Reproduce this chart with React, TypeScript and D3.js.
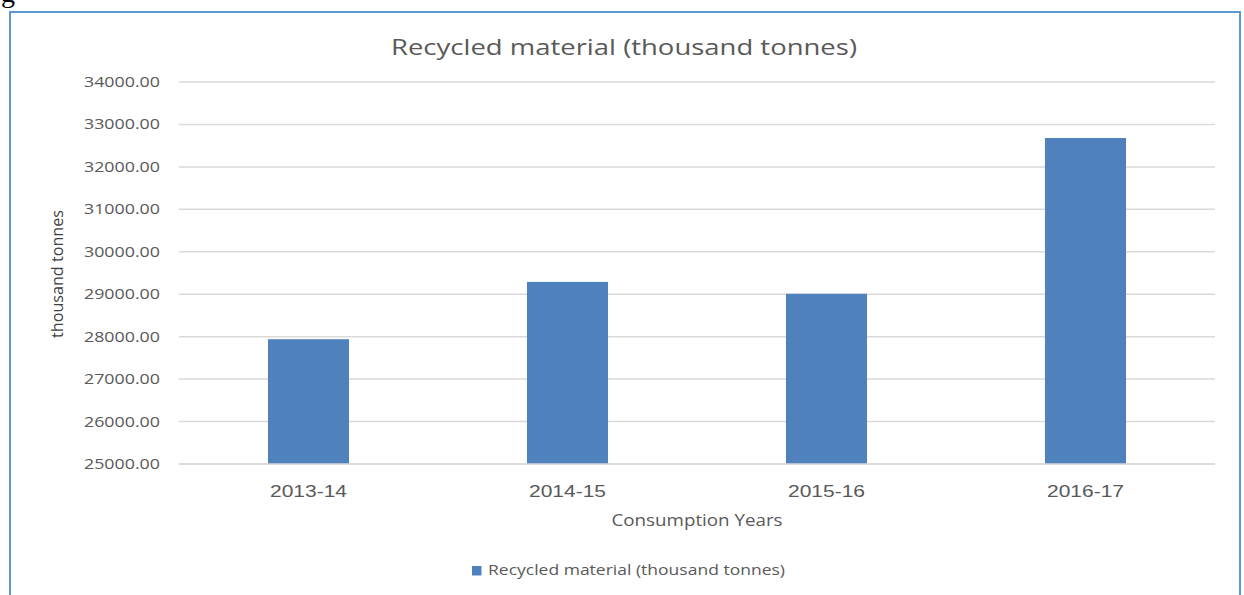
import React from "react";
import * as d3 from "d3";

const categories = ["2013-14", "2014-15", "2015-16", "2016-17"];
const values = [27940, 29290, 29010, 32680];
const yTicks = [25000, 26000, 27000, 28000, 29000, 30000, 31000, 32000, 33000, 34000];
const title = "Recycled material (thousand tonnes)";
const yLabel = "thousand tonnes";
const xLabel = "Consumption Years";
const legendLabel = "Recycled material (thousand tonnes)";

const W = 1244;
const H = 595;
const left = 179, right = 1215, top = 82, bottom = 464;

export default function App() {
  const x = d3.scaleBand<string>().domain(categories).range([left, right]).paddingInner(0.687).paddingOuter(0.3435);
  const y = d3.scaleLinear().domain([25000, 34000]).range([bottom, top]);
  const font = "'Open Sans', 'Liberation Sans', Arial, sans-serif";
  const grey = "#595959";
  return (
    <svg width={W} height={H} style={{ position: "fixed", left: 0, top: 0, background: "#fff" }}>
      <rect x={0} y={0} width={W} height={H} fill="#fff" />
      <text x={1} y={2} fontFamily="'Liberation Serif', serif" fontSize={28} fill="#000">g</text>
      <rect x={10} y={12} width={1230} height={600} fill="none" stroke="#5b9bd5" strokeWidth={2} />
      <text x={624} y={55} textAnchor="middle" fontFamily={font} fontSize={21} fill={grey}
        textLength={466} lengthAdjust="spacingAndGlyphs">{title}</text>
      {yTicks.map((t) => (
        <g key={t}>
          <line x1={left} x2={right} y1={y(t)} y2={y(t)} stroke="#d9d9d9" strokeWidth={1.5} />
          <text x={160} y={y(t) + 5} textAnchor="end" fontFamily={font} fontSize={14.5} fill={grey}
            textLength={76} lengthAdjust="spacingAndGlyphs">{t.toFixed(2)}</text>
        </g>
      ))}
      {categories.map((c, i) => (
        <g key={c}>
          <rect x={x(c)} y={y(values[i])} width={x.bandwidth()} height={bottom - y(values[i])} fill="#4f81bd" />
          <text x={(x(c) as number) + x.bandwidth() / 2} y={497} textAnchor="middle" fontFamily="'Liberation Sans', Arial, sans-serif" fontSize={17} fill={grey}
            textLength={77} lengthAdjust="spacingAndGlyphs">{c}</text>
        </g>
      ))}
      <line x1={left} x2={right} y1={bottom} y2={bottom} stroke="#d9d9d9" strokeWidth={1.5} />
      <text transform={`translate(63, 274) rotate(-90)`} textAnchor="middle" fontFamily={font} fontSize={16} fill="#404040"
        textLength={128} lengthAdjust="spacingAndGlyphs">{yLabel}</text>
      <text x={697} y={526} textAnchor="middle" fontFamily={font} fontSize={16} fill={grey}
        textLength={171} lengthAdjust="spacingAndGlyphs">{xLabel}</text>
      <rect x={472} y={566} width={9.5} height={9.5} fill="#4f81bd" />
      <text x={488} y={575} fontFamily={font} fontSize={14.5} fill={grey}
        textLength={297} lengthAdjust="spacingAndGlyphs">{legendLabel}</text>
    </svg>
  );
}
